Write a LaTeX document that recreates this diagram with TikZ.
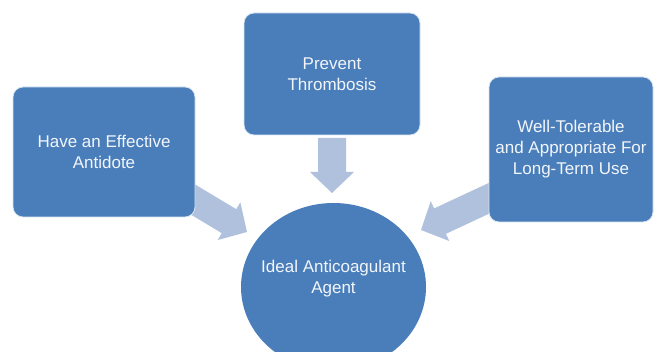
\documentclass[tikz,border=0pt]{standalone}
\usepackage{fontspec}
\setmainfont{Liberation Sans}
\usetikzlibrary{shapes.geometric}
\definecolor{boxblue}{HTML}{4A7EBB}
\definecolor{arrowblue}{HTML}{B0C1DD}
\definecolor{txt}{HTML}{F2F5FA}
\tikzset{
  lblfont/.style={font=\fontsize{17}{21}\selectfont},
  box/.style={rectangle, rounded corners=10pt, fill=boxblue, draw=white!80!boxblue,
    line width=0.8pt, text=txt, align=center, lblfont, inner sep=0pt},
  goal/.style={ellipse, fill=boxblue, draw=none, inner sep=0pt},
  goaltextstyle/.style={text=txt, align=center, lblfont, inner sep=0pt},
  blockarrow/.style={fill=arrowblue, draw=none}
}
\newcommand\myblockarr[3]{%
  \fill[blockarrow, shift={(#1)}, rotate=#2] (0,0) -- (-21,22) -- (-21,14) -- (-#3,14) -- (-#3,-14) -- (-21,-14) -- (-21,-22) -- cycle;}
\begin{document}
\begin{tikzpicture}[x=1pt, y=1pt]
  \useasboundingbox (0,0) rectangle (654,352);
  \clip (0,0) rectangle (654,352);
  % goal ellipse
  \node[goal, minimum width=185pt, minimum height=168pt] (goal) at (333.5,65) {};
  \node[goaltextstyle] (goaltext) at (333.5,73.5) {Ideal Anticoagulant\\Agent};
  % arrow tips
  \coordinate (tipL) at (247,120);
  \coordinate (tipT) at (332,159);
  \coordinate (tipR) at (421,122);
  \myblockarr{tipL}{-31}{72}
  \myblockarr{tipT}{-90}{55}
  \myblockarr{tipR}{205}{82}
  % boxes
  \node[box, minimum width=182pt, minimum height=130pt] (antidote) at (104,200) {Have an Effective\\Antidote};
  \node[box, minimum width=176pt, minimum height=122pt] (prevent) at (332,278) {Prevent\\Thrombosis};
  \node[box, minimum width=164pt, minimum height=145pt] (tolerable) at (571,202.5) {Well-Tolerable\\and Appropriate For\\Long-Term Use};
\end{tikzpicture}
\end{document}
